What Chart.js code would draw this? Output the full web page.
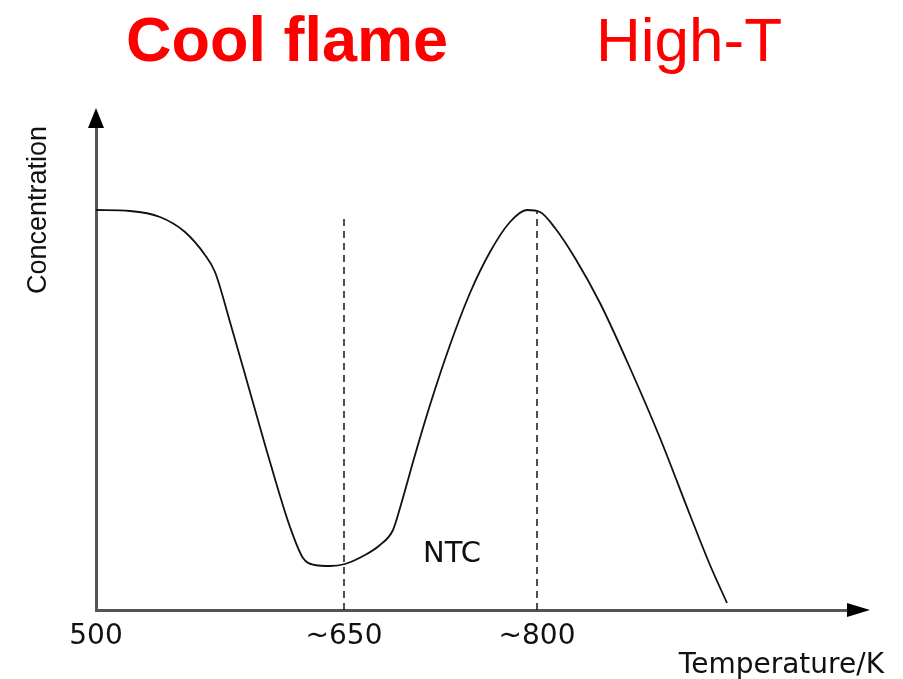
<!DOCTYPE html>
<html>
<head>
<meta charset="utf-8">
<script src="https://cdn.jsdelivr.net/npm/chart.js@4"></script>
<style>
  html, body { margin: 0; padding: 0; background: #fff; }
  #wrap { width: 903px; height: 679px; }
</style>
</head>
<body>
<div id="wrap"><canvas id="chart" width="903" height="679"></canvas></div>
<script>
// schematic curve (x in arbitrary temperature units, y in arbitrary concentration units)
const curveX = [0, 34, 64, 89, 109, 119, 134, 154, 174, 194, 207, 219, 234, 249, 269, 284, 297,
  304, 319, 334, 354, 374, 394, 414, 431, 444, 459, 479, 504, 534, 564, 594, 614, 631];
const curveY = [400, 399, 393, 378, 355, 338, 288, 218, 148, 83, 52, 45, 44, 46, 55, 65, 80,
  102, 155, 205, 265, 317, 358, 388, 400, 398, 382, 352, 307, 242, 172, 95, 45, 7];

// tick positions and their labels
const tickPos = [0, 248, 441];
const tickLabels = ['500', '~650', '~800'];

// dashed markers at ~650 and ~800
const dashX = [248, 441];
const dashTop = [395, 398];

const xMax = 754, yMax = 485;

const curveData = curveX.map((x, i) => ({ x: x, y: curveY[i] }));
const dashSets = dashX.map((x, i) => ({
  data: [{ x: x, y: 0 }, { x: x, y: dashTop[i] }],
  borderColor: '#222',
  borderWidth: 1.6,
  borderDash: [7, 5],
  pointRadius: 0,
  tension: 0
}));

// arrows, titles and labels
const decor = {
  id: 'decor',
  afterDraw(chart) {
    const { ctx, chartArea: a, scales } = chart;
    ctx.save();
    ctx.fillStyle = '#000';
    // x arrow
    ctx.beginPath();
    ctx.moveTo(a.right - 3, a.bottom - 7);
    ctx.lineTo(a.right + 20, a.bottom);
    ctx.lineTo(a.right - 3, a.bottom + 7);
    ctx.closePath();
    ctx.fill();
    // y arrow
    ctx.beginPath();
    ctx.moveTo(a.left - 8, a.top + 3);
    ctx.lineTo(a.left, a.top - 17);
    ctx.lineTo(a.left + 8, a.top + 3);
    ctx.closePath();
    ctx.fill();

    ctx.fillStyle = '#111';
    ctx.font = '28px "DejaVu Sans", sans-serif';
    ctx.textBaseline = 'alphabetic';
    ctx.textAlign = 'right';
    ctx.fillText('Temperature/K', 884, 673);

    ctx.save();
    ctx.translate(46, 210);
    ctx.rotate(-Math.PI / 2);
    ctx.textAlign = 'center';
    ctx.font = '27px "Liberation Sans", Arial, sans-serif';
    ctx.fillText('Concentration', 0, 0);
    ctx.restore();

    ctx.textAlign = 'center';
    ctx.font = '29px "DejaVu Sans", sans-serif';
    ctx.fillText('NTC', scales.x.getPixelForValue(356), scales.y.getPixelForValue(48));

    ctx.fillStyle = '#ff0000';
    ctx.textAlign = 'left';
    ctx.font = 'bold 63px "Liberation Sans", Arial, sans-serif';
    ctx.fillText('Cool flame', 126, 61);
    ctx.font = '62px "Liberation Sans", Arial, sans-serif';
    ctx.fillText('High-T', 596, 61);
    ctx.restore();
  }
};

new Chart(document.getElementById('chart'), {
  type: 'line',
  data: {
    datasets: [{
      data: curveData,
      borderColor: '#111',
      borderWidth: 1.8,
      pointRadius: 0,
      cubicInterpolationMode: 'monotone'
    }, ...dashSets]
  },
  options: {
    responsive: false,
    animation: false,
    layout: { padding: { top: 125, right: 53, left: 0, bottom: 0 } },
    plugins: { legend: { display: false }, tooltip: { enabled: false } },
    scales: {
      x: {
        type: 'linear',
        min: 0,
        max: xMax,
        grid: { display: false, drawTicks: false },
        border: { color: '#555', width: 3 },
        afterBuildTicks: s => { s.ticks = tickPos.map(v => ({ value: v })); },
        afterFit: s => { s.height = 69; },
        ticks: {
          padding: 10,
          color: '#111',
          maxRotation: 0,
          autoSkip: false,
          font: { family: '"DejaVu Sans", sans-serif', size: 28 },
          callback: (v) => tickLabels[tickPos.indexOf(v)]
        }
      },
      y: {
        type: 'linear',
        min: 0,
        max: yMax,
        grid: { display: false, drawTicks: false },
        border: { color: '#555', width: 3 },
        ticks: { display: false },
        afterFit: s => { s.width = 96; }
      }
    }
  },
  plugins: [decor]
});
</script>
</body>
</html>
